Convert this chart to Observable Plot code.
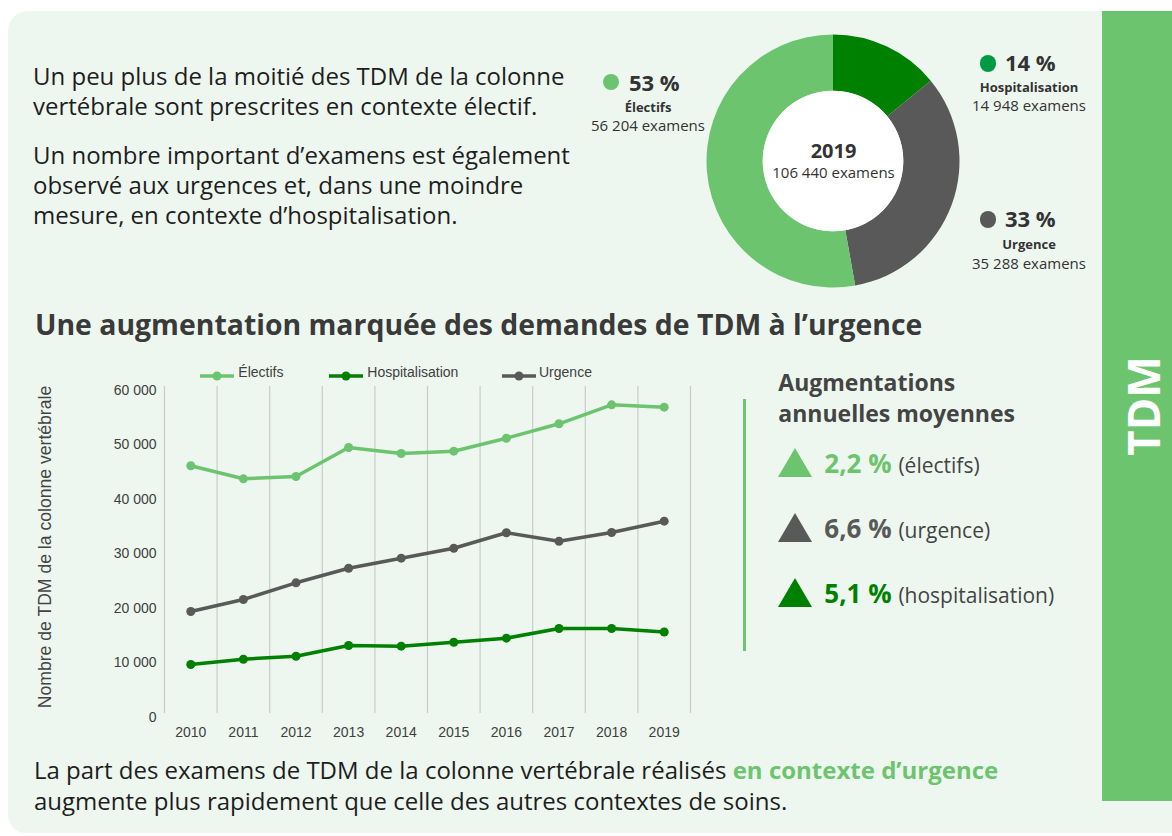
<!DOCTYPE html>
<html><head><meta charset="utf-8">
<script src="https://cdn.jsdelivr.net/npm/d3@7"></script>
<script src="https://cdn.jsdelivr.net/npm/@observablehq/plot@0.6"></script>
<style>
body{margin:0;background:#fff;}
#root{position:relative;width:1172px;height:836px;overflow:hidden;font-family:'Open Sans',sans-serif;}
.abs{position:absolute;white-space:nowrap;line-height:1;}
</style></head><body><div id="root"></div>
<script>
// ---- data ----
const years = [2010, 2011, 2012, 2013, 2014, 2015, 2016, 2017, 2018, 2019];
const electifs = [45450, 43060, 43490, 48810, 47710, 48130, 50510, 53160, 56640, 56204];
const hospitalisation = [8990, 9960, 10510, 12480, 12350, 13080, 13820, 15600, 15600, 14948];
const urgence = [18720, 20920, 23980, 26660, 28500, 30330, 33160, 31610, 33210, 35288];
const seriesNames = ["Électifs", "Hospitalisation", "Urgence"];
const seriesColors = ["#6cc46e", "#008000", "#595959"];
const yTicks = [0, 10000, 20000, 30000, 40000, 50000, 60000];
const yTitle = "Nombre de TDM de la colonne vertébrale";

const donutLabels = ["Hospitalisation", "Urgence", "Électifs"];
const donutValues = [14948, 35288, 56204];
const donutPct = ["14 %", "33 %", "53 %"];
const donutColors = ["#008000", "#595959", "#6cc46e"];
const donutDotColors = ["#009944", "#595959", "#6cc46e"];
const donutYear = "2019";

const growthRates = ["2,2 %", "6,6 %", "5,1 %"];
const growthLabels = ["(électifs)", "(urgence)", "(hospitalisation)"];
const growthColors = ["#6cc46e", "#595959", "#008000"];

// ---- helpers ----
const root = document.getElementById("root");
const fr = d3.formatLocale({thousands: " ", grouping: [3], decimal: ",", currency: ["", ""]});
const fmt = fr.format(",");
function box(css, parent = root) {
  const d = document.createElement("div");
  d.className = "abs";
  Object.assign(d.style, css);
  parent.appendChild(d);
  return d;
}
function text(str, {x, base, size, weight = 400, color = "#222", anchor = "start", family = "'Open Sans'"}) {
  const k = family.includes("Liberation") ? 0.8465 : 0.888;
  const d = box({left: x + "px", top: (base - k * size) + "px", fontSize: size + "px", fontWeight: weight, color, fontFamily: family});
  if (anchor === "middle") d.style.transform = "translateX(-50%)";
  if (anchor === "end") d.style.transform = "translateX(-100%)";
  d.textContent = str;
  return d;
}

// ---- background ----
box({left: "8px", top: "11px", width: "1164px", height: "822px", background: "#eef7ef", borderRadius: "20px 0 0 18px"});
box({left: "1102px", top: "11px", width: "70px", height: "790px", background: "#6cc46e"});
box({left: "1143px", top: "406px", fontSize: "44px", fontWeight: 700, color: "#fff", transform: "translate(-50%,-50%) rotate(-90deg)"}).textContent = "TDM";

// ---- intro paragraph ----
const p1 = box({left: "33px", top: "60.5px", fontSize: "24px", lineHeight: "30px", color: "#1e1e1e"});
p1.innerHTML = "Un peu plus de la moitié des TDM de la colonne<br>vertébrale sont prescrites en contexte électif.";
const p2 = box({left: "33px", top: "139.5px", fontSize: "24px", lineHeight: "30px", color: "#1e1e1e"});
p2.innerHTML = "Un nombre important d’examens est également<br>observé aux urgences et, dans une moindre<br>mesure, en contexte d’hospitalisation.";

// ---- donut ----
const R = 130, outerR = 126.5, innerR = 70.3;
const donutMark = () => {
  const g = d3.create("svg:g").attr("transform", `translate(${R},${R})`);
  const arcs = d3.pie().sort(null).value(d => d)(donutValues);
  const arc = d3.arc().innerRadius(innerR).outerRadius(outerR);
  g.selectAll("path").data(arcs).join("path").attr("d", arc).attr("fill", (d, i) => donutColors[i]);
  g.append("circle").attr("r", innerR).attr("fill", "#fff");
  return g.node();
};
const total = d3.sum(donutValues);
const donut = Plot.plot({
  width: 2 * R, height: 2 * R, margin: 0,
  style: {background: "transparent", overflow: "visible"},
  marks: [
    donutMark,
    Plot.text([donutYear], {frameAnchor: "middle", dy: -9.6, fontSize: 20, fontWeight: 700, fill: "#333", fontFamily: "Open Sans"}),
    Plot.text([fmt(total) + " examens"], {frameAnchor: "middle", dy: 11.2, fontSize: 15, fill: "#333", fontFamily: "Open Sans"})
  ]
});
const dWrap = box({left: (833 - R) + "px", top: (161 - R) + "px"});
dWrap.appendChild(donut);

// donut labels
const labelPos = [
  {dot: [988, 63.7], pct: [1005, 70.7], cx: 1029, b1: 92.3, b2: 111.5},
  {dot: [988, 219.5], pct: [1005, 226.7], cx: 1029, b1: 250, b2: 269},
  {dot: [611, 82], pct: [629, 90.7], cx: 648, b1: 112.5, b2: 131.5}
];
donutLabels.forEach((lab, i) => {
  const p = labelPos[i];
  box({left: (p.dot[0] - 8.3) + "px", top: (p.dot[1] - 8.3) + "px", width: "16.6px", height: "16.6px", borderRadius: "50%", background: donutDotColors[i]});
  text(donutPct[i], {x: p.pct[0], base: p.pct[1], size: 22, weight: 700, color: "#333"});
  text(lab, {x: p.cx, base: p.b1, size: 13, weight: 700, color: "#333", anchor: "middle"});
  text(fmt(donutValues[i]) + " examens", {x: p.cx, base: p.b2, size: 15, color: "#333", anchor: "middle"});
});

// ---- section title ----
text("Une augmentation marquée des demandes de TDM à l’urgence", {x: 35, base: 335.5, size: 28.4, weight: 700, color: "#3a3a3a"});

// ---- legend ----
const legendPos = [{x: 200, tx: 238.3}, {x: 329.3, tx: 367.3}, {x: 501.7, tx: 539}];
seriesNames.forEach((s, i) => {
  const sw = box({left: legendPos[i].x + "px", top: "366.7px", width: "34px", height: "10px"});
  sw.innerHTML = `<svg width="34" height="10"><line x1="0" x2="34" y1="5" y2="5" stroke="${seriesColors[i]}" stroke-width="3.5"/><circle cx="17" cy="5" r="4.5" fill="${seriesColors[i]}"/></svg>`;
  text(s, {x: legendPos[i].tx, base: 377.3, size: 14, color: "#404040", family: "'Liberation Sans', Arial"});
});

// ---- line chart ----
const seriesValues = [electifs, hospitalisation, urgence];
const tidy = seriesNames.flatMap((s, i) => years.map((yr, j) => ({series: s, year: yr, value: seriesValues[i][j]})));
const bounds = years.map(y => y - 0.5).concat([years[years.length - 1] + 0.5]);
const chart = Plot.plot({
  width: 700, height: 390, marginLeft: 134, marginRight: 40, marginTop: 31, marginBottom: 32,
  style: {background: "transparent", fontFamily: "'Liberation Sans', Arial, sans-serif", fontSize: "14px", color: "#404040", overflow: "visible"},
  x: {domain: [bounds[0], bounds[bounds.length - 1]]},
  y: {domain: [0, 60000]},
  color: {domain: seriesNames, range: seriesColors},
  marks: [
    Plot.ruleX(bounds, {stroke: "#c6cdc6", strokeWidth: 1.2}),
    Plot.axisY(yTicks, {tickSize: 0, tickPadding: 8, tickFormat: fmt, dy: 4, label: null, fontSize: 14}),
    Plot.axisX(years, {tickSize: 0, tickPadding: 14, tickFormat: d => String(d), label: null, fontSize: 14}),
    Plot.line(tidy, {x: "year", y: "value", z: "series", stroke: "series", strokeWidth: 3.5}),
    Plot.dot(tidy, {x: "year", y: "value", fill: "series", r: 4.5})
  ]
});
box({left: "30px", top: "355px"}).appendChild(chart);
box({left: "46px", top: "547px", fontSize: "17.6px", color: "#444", fontFamily: "'Liberation Sans', Arial", transform: "translate(-50%,-50%) rotate(-90deg)"}).textContent = yTitle;

// ---- growth panel ----
box({left: "743.3px", top: "399px", width: "2.5px", height: "252px", background: "#6cc46e"});
text("Augmentations", {x: 778.3, base: 391, size: 23, weight: 700, color: "#444"});
text("annuelles moyennes", {x: 778.3, base: 422.7, size: 23, weight: 700, color: "#444"});
const rowBase = [473.5, 538, 603];
growthRates.forEach((r, i) => {
  const tri = box({left: "778.3px", top: (rowBase[i] - 25.5) + "px", width: "34px", height: "29px"});
  tri.innerHTML = `<svg width="34" height="29"><polygon points="17,0 34,29 0,29" fill="${growthColors[i]}"/></svg>`;
  const t = box({left: "824.3px", top: (rowBase[i] - 13 - 0.388 * 26) + "px", fontSize: "26px", lineHeight: "26px"});
  t.innerHTML = `<span style="font-weight:700;color:${growthColors[i]}">${r}</span> <span style="font-size:21px;color:#444">${growthLabels[i]}</span>`;
});

// ---- bottom text ----
const bt = box({left: "34px", top: "753.8px", fontSize: "24px", lineHeight: "31px", color: "#1e1e1e"});
bt.innerHTML = 'La part des examens de TDM de la colonne vertébrale réalisés <span style="font-weight:700;color:#6cc46e">en contexte d’urgence</span><br>augmente plus rapidement que celle des autres contextes de soins.';
</script></body></html>
